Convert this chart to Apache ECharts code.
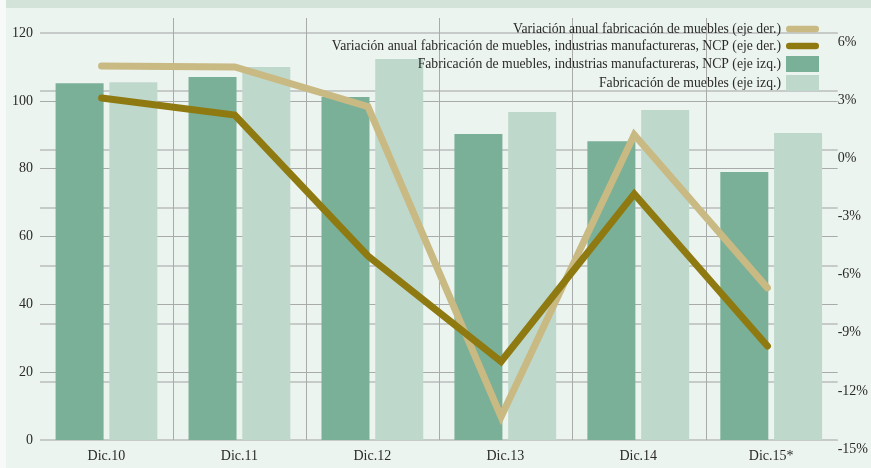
<!DOCTYPE html>
<html>
<head>
<meta charset="utf-8">
<script src="https://cdn.jsdelivr.net/npm/echarts@6/dist/echarts.min.js"></script>
<style>
  html, body { margin: 0; padding: 0; background: #ffffff; }
  #chart { width: 871px; height: 468px; }
</style>
</head>
<body>
<div id="chart"></div>
<script>
// data
const categories = ["Dic.10", "Dic.11", "Dic.12", "Dic.13", "Dic.14", "Dic.15*"];
const ncpIndex = [105.2, 107.0, 101.1, 90.2, 88.1, 79.0];        // eje izq.
const mueblesIndex = [105.5, 110.0, 112.3, 96.7, 97.3, 90.5];    // eje izq.
const varMuebles = [4.3, 4.25, 2.2, -13.8, 0.75, -7.15];         // eje der. (%)
const varNcp = [2.65, 1.77, -5.5, -10.95, -2.3, -10.15];         // eje der. (%)

const names = {
  varMuebles: "Variación anual fabricación de muebles (eje der.)",
  varNcp: "Variación anual fabricación de muebles, industrias manufactureras, NCP (eje der.)",
  ncp: "Fabricación de muebles, industrias manufactureras, NCP (eje izq.)",
  muebles: "Fabricación de muebles (eje izq.)"
};

const colors = {
  barDark: "#7ab098",
  barLight: "#bfd8cc",
  lineLight: "#c9b982",
  lineDark: "#8f7a12"
};

const serif = "Liberation Serif";
const pill = "path://M4,0 H36 A4,4 0 0 1 36,8 H4 A4,4 0 0 1 4,0 Z";

const chart = echarts.init(document.getElementById("chart"));

chart.setOption({
  backgroundColor: "#ecf4ef",
  animation: false,
  textStyle: { fontFamily: serif },
  graphic: [
    { type: "rect", shape: { x: 0, y: 0, width: 871, height: 8 }, style: { fill: "#d3e3da" }, silent: true },
    { type: "rect", shape: { x: 0, y: 0, width: 6, height: 468 }, style: { fill: "#f8faf9" }, silent: true }
  ],
  legend: {
    orient: "vertical",
    right: 47,
    top: 17,
    align: "right",
    itemWidth: 33,
    itemHeight: 16,
    itemGap: 3,
    textStyle: { fontFamily: serif, fontSize: 13.7, color: "#2a2a2a" },
    data: [
      { name: names.varMuebles, icon: pill },
      { name: names.varNcp, icon: pill },
      { name: names.ncp, icon: "rect" },
      { name: names.muebles, icon: "rect" }
    ]
  },
  grid: [
    { left: 40, right: 32, top: 33, bottom: 28 },
    { left: 40, right: 32, top: 18, bottom: 28 },
    { left: 35, right: 37, top: 33, bottom: 28 }
  ],
  xAxis: [
    {
      type: "category",
      gridIndex: 0,
      data: categories,
      axisLine: { show: false },
      axisTick: { show: false },
      axisLabel: { fontFamily: serif, fontSize: 14, color: "#2a2a2a", margin: 9 },
      splitLine: { show: false }
    },
    {
      type: "category",
      gridIndex: 1,
      data: categories,
      axisLine: { show: false },
      axisTick: { show: false },
      axisLabel: { show: false },
      splitLine: {
        show: true,
        showMinLine: false,
        showMaxLine: false,
        lineStyle: { color: "#a9abaa", width: 1 }
      }
    },
    {
      type: "category",
      gridIndex: 2,
      data: categories,
      show: false
    }
  ],
  yAxis: [
    {
      type: "value",
      gridIndex: 0,
      min: 0,
      max: 120,
      interval: 20,
      axisLine: { show: false },
      axisTick: { show: false },
      axisLabel: { fontFamily: serif, fontSize: 14, color: "#2a2a2a", margin: 7 },
      splitLine: { lineStyle: { color: "#a9abaa", width: 1 } }
    },
    {
      type: "value",
      gridIndex: 0,
      position: "right",
      min: -15,
      max: 6,
      interval: 3,
      axisLine: { show: false },
      axisTick: { show: false },
      axisLabel: {
        fontFamily: serif,
        fontSize: 14,
        color: "#2a2a2a",
        margin: 0,
        verticalAlign: "top",
        lineHeight: 18,
        formatter: "{value}%"
      },
      splitLine: { lineStyle: { color: "#c6cac8", width: 2 } }
    },
    {
      type: "value",
      gridIndex: 1,
      show: false,
      splitLine: { show: false }
    },
    {
      type: "value",
      gridIndex: 2,
      min: -15,
      max: 6,
      show: false,
      splitLine: { show: false }
    }
  ],
  series: [
    {
      name: names.ncp,
      type: "bar",
      xAxisIndex: 0,
      yAxisIndex: 0,
      data: ncpIndex,
      barWidth: 48,
      barGap: "12%",
      itemStyle: { color: colors.barDark }
    },
    {
      name: names.muebles,
      type: "bar",
      xAxisIndex: 0,
      yAxisIndex: 0,
      data: mueblesIndex,
      barWidth: 48,
      barGap: "12%",
      itemStyle: { color: colors.barLight }
    },
    {
      name: names.varMuebles,
      type: "line",
      xAxisIndex: 2,
      yAxisIndex: 3,
      data: varMuebles,
      symbol: "none",
      z: 4,
      itemStyle: { color: colors.lineLight },
      lineStyle: { color: colors.lineLight, width: 7, cap: "round", join: "miter" }
    },
    {
      name: names.varNcp,
      type: "line",
      xAxisIndex: 2,
      yAxisIndex: 3,
      data: varNcp,
      symbol: "none",
      z: 5,
      itemStyle: { color: colors.lineDark },
      lineStyle: { color: colors.lineDark, width: 7, cap: "round", join: "miter" }
    }
  ]
});
</script>
</body>
</html>
